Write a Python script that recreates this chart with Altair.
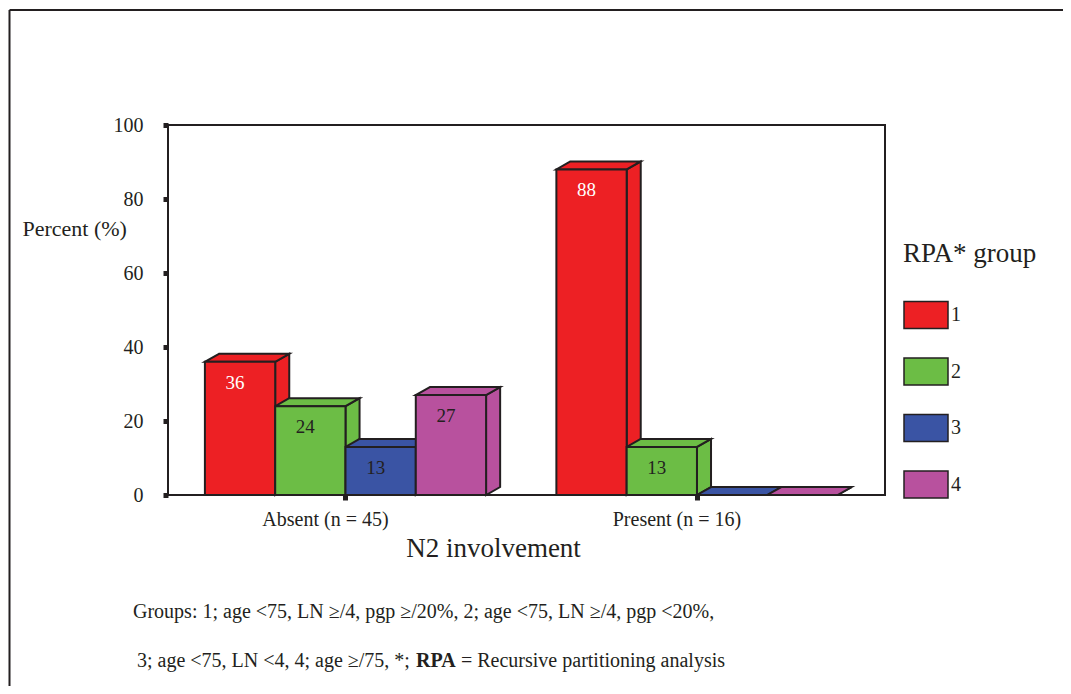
import altair as alt
import pandas as pd

# ---------------- data ----------------
groups = ["Absent (n = 45)", "Present (n = 16)"]
series = ["1", "2", "3", "4"]
values = [
    [36, 24, 13, 27],   # Absent
    [88, 13, 0, 0],     # Present
]
colors = ["#ED2024", "#6CBD45", "#3A54A4", "#B8519E"]
label_colors = ["#FFFFFF", "#231F20", "#231F20", "#231F20"]
y_ticks = [0, 20, 40, 60, 80, 100]
foot_line1 = "Groups: 1; age <75, LN \u2265/4, pgp \u2265/20%, 2; age <75, LN \u2265/4, pgp <20%,"
foot_line2a = "3; age <75, LN <4, 4; age \u2265/75, *;"
foot_line2b = "RPA"
foot_line2c = "= Recursive partitioning analysis"

# ---------------- geometry helpers (in bar-width units) ----------------
GROUP_SPACING = 5.0
FIRST_CENTER = 2.5
DX = 0.2      # depth offset along x, in bar widths
DY = 2.16     # depth offset along y, in percent units

front_rows, side_rows, top_rows, label_rows, cat_rows = [], [], [], [], []
for gi, g in enumerate(groups):
    center = FIRST_CENTER + gi * GROUP_SPACING
    cat_rows.append(dict(xc=center, name=g))
    for si, s in enumerate(series):
        v = values[gi][si]
        x0 = center - 2 + si
        x1 = x0 + 1
        bar = f"{gi}-{si}"
        front_rows.append(dict(x0=x0, x1=x1, v=v, series=s, bar=bar))
        side_rows.append(dict(x=x1, ylo=0, yhi=v, series=s, bar=bar))
        side_rows.append(dict(x=x1 + DX, ylo=DY, yhi=v + DY, series=s, bar=bar))
        top_rows.append(dict(y=v, xlo=x0, xhi=x1, series=s, bar=bar))
        top_rows.append(dict(y=v + DY, xlo=x0 + DX, xhi=x1 + DX, series=s, bar=bar))
        if v > 0:
            label_rows.append(dict(xc=(x0 + x1) / 2, v=v, txt=str(v), series=s,
                                   lc=label_colors[si]))

front = pd.DataFrame(front_rows)
side = pd.DataFrame(side_rows)
top = pd.DataFrame(top_rows)
labels = pd.DataFrame(label_rows)
cats = pd.DataFrame(cat_rows)

FONT = "Liberation Serif"
INK = "#231F20"

xscale = alt.Scale(domain=[-0.025, 10.175], nice=False, zero=False)
yscale = alt.Scale(domain=[0, 100], nice=False)

xaxis = alt.Axis(values=[FIRST_CENTER, FIRST_CENTER + GROUP_SPACING], labels=False,
                 title="N2 involvement", titleFontSize=27, titleFont=FONT,
                 titleFontWeight="normal", titleColor=INK, titleX=325, titleY=53,
                 titleBaseline="middle", titleAlign="center",
                 grid=False, domain=False, tickSize=5, tickWidth=5, tickColor=INK)
yaxis = alt.Axis(values=y_ticks, title="Percent (%)", titleAngle=0, titleX=-146, titleY=103,
                 titleAlign="left", titleBaseline="middle", titleFontSize=22, titleFont=FONT,
                 titleFontWeight="normal", titleColor=INK,
                 grid=False, domain=False, tickSize=5, tickWidth=5, tickColor=INK,
                 labelFont=FONT, labelFontSize=20, labelColor=INK, labelPadding=20)

legend = alt.Legend(title="RPA* group", orient="none", legendX=735, legendY=116,
                    symbolType="M-1,-0.614L1,-0.614L1,0.614L-1,0.614Z", symbolSize=1936,
                    symbolStrokeColor=INK, symbolStrokeWidth=1.5, symbolOpacity=1,
                    labelFont=FONT, labelFontSize=20, labelColor=INK, labelOffset=2,
                    titleFont=FONT, titleFontSize=27, titleFontWeight="normal",
                    titleColor=INK, titlePadding=24, rowPadding=16.5, padding=0)

color = alt.Color("series:N", scale=alt.Scale(domain=series, range=colors), legend=legend)

sides = alt.Chart(side).mark_area(stroke=INK, strokeWidth=2, opacity=1).encode(
    x=alt.X("x:Q", scale=xscale, axis=xaxis),
    y=alt.Y("yhi:Q", scale=yscale, axis=yaxis),
    y2="ylo:Q",
    color=color,
    detail="bar:N",
)

tops = alt.Chart(top).mark_area(stroke=INK, strokeWidth=2, opacity=1, orient="horizontal").encode(
    y=alt.Y("y:Q", scale=yscale, axis=yaxis),
    x=alt.X("xlo:Q", scale=xscale, axis=xaxis),
    x2="xhi:Q",
    color=color,
    detail="bar:N",
)

fronts = alt.Chart(front).mark_rect(stroke=INK, strokeWidth=2, opacity=1).encode(
    x=alt.X("x0:Q", scale=xscale, axis=xaxis),
    x2="x1:Q",
    y=alt.Y("v:Q", scale=yscale, axis=yaxis),
    y2=alt.datum(0),
    color=color,
)

texts = alt.Chart(labels).mark_text(font=FONT, fontSize=19, baseline="middle", dy=21, dx=-5).encode(
    x=alt.X("xc:Q", scale=xscale, axis=xaxis),
    y=alt.Y("v:Q", scale=yscale, axis=yaxis),
    text="txt:N",
    color=alt.Color("lc:N", scale=None),
)

cat_text = alt.Chart(cats).mark_text(font=FONT, fontSize=20, baseline="middle", dx=-20,
                                     color=INK).encode(
    x=alt.X("xc:Q", scale=xscale, axis=xaxis),
    y=alt.value(520 - 125),
    text="name:N",
)

# outer figure frame (top and left edges)
frame_top = alt.Chart(alt.Data(values=[{}])).mark_rule(color=INK, strokeWidth=2).encode(
    x=alt.value(-158.5), x2=alt.value(900), y=alt.value(-115))
frame_left = alt.Chart(alt.Data(values=[{}])).mark_rule(color=INK, strokeWidth=2).encode(
    x=alt.value(-158.5), y=alt.value(-115), y2=alt.value(600))

FOOT_SIZE = 20
foot = pd.DataFrame([{"a": foot_line1, "b": foot_line2a, "c": foot_line2b, "d": foot_line2c}])
f1 = alt.Chart(foot).mark_text(font=FONT, fontSize=FOOT_SIZE, align="left", baseline="middle", color=INK).encode(
    x=alt.value(133 - 168), y=alt.value(612 - 125), text="a:N")
f2 = alt.Chart(foot).mark_text(font=FONT, fontSize=FOOT_SIZE, align="left", baseline="middle", color=INK).encode(
    x=alt.value(137 - 168), y=alt.value(661 - 125), text="b:N")
f3 = alt.Chart(foot).mark_text(font=FONT, fontSize=FOOT_SIZE, align="left", baseline="middle", color=INK,
                               fontWeight="bold").encode(
    x=alt.value(416 - 168), y=alt.value(661 - 125), text="c:N")
f4 = alt.Chart(foot).mark_text(font=FONT, fontSize=FOOT_SIZE, align="left", baseline="middle", color=INK).encode(
    x=alt.value(461 - 168), y=alt.value(661 - 125), text="d:N")

chart = alt.layer(sides, tops, fronts, texts, cat_text, frame_top, frame_left, f1, f2, f3, f4).properties(
    width=717, height=370,
    padding={"left": 160, "top": 117, "right": 178, "bottom": 191},
    autosize=alt.AutoSizeParams(type="none"),
    background="white",
).configure_view(stroke=INK, strokeWidth=2)

chart.save("out.html", embed_options={"renderer": "svg", "actions": False})
